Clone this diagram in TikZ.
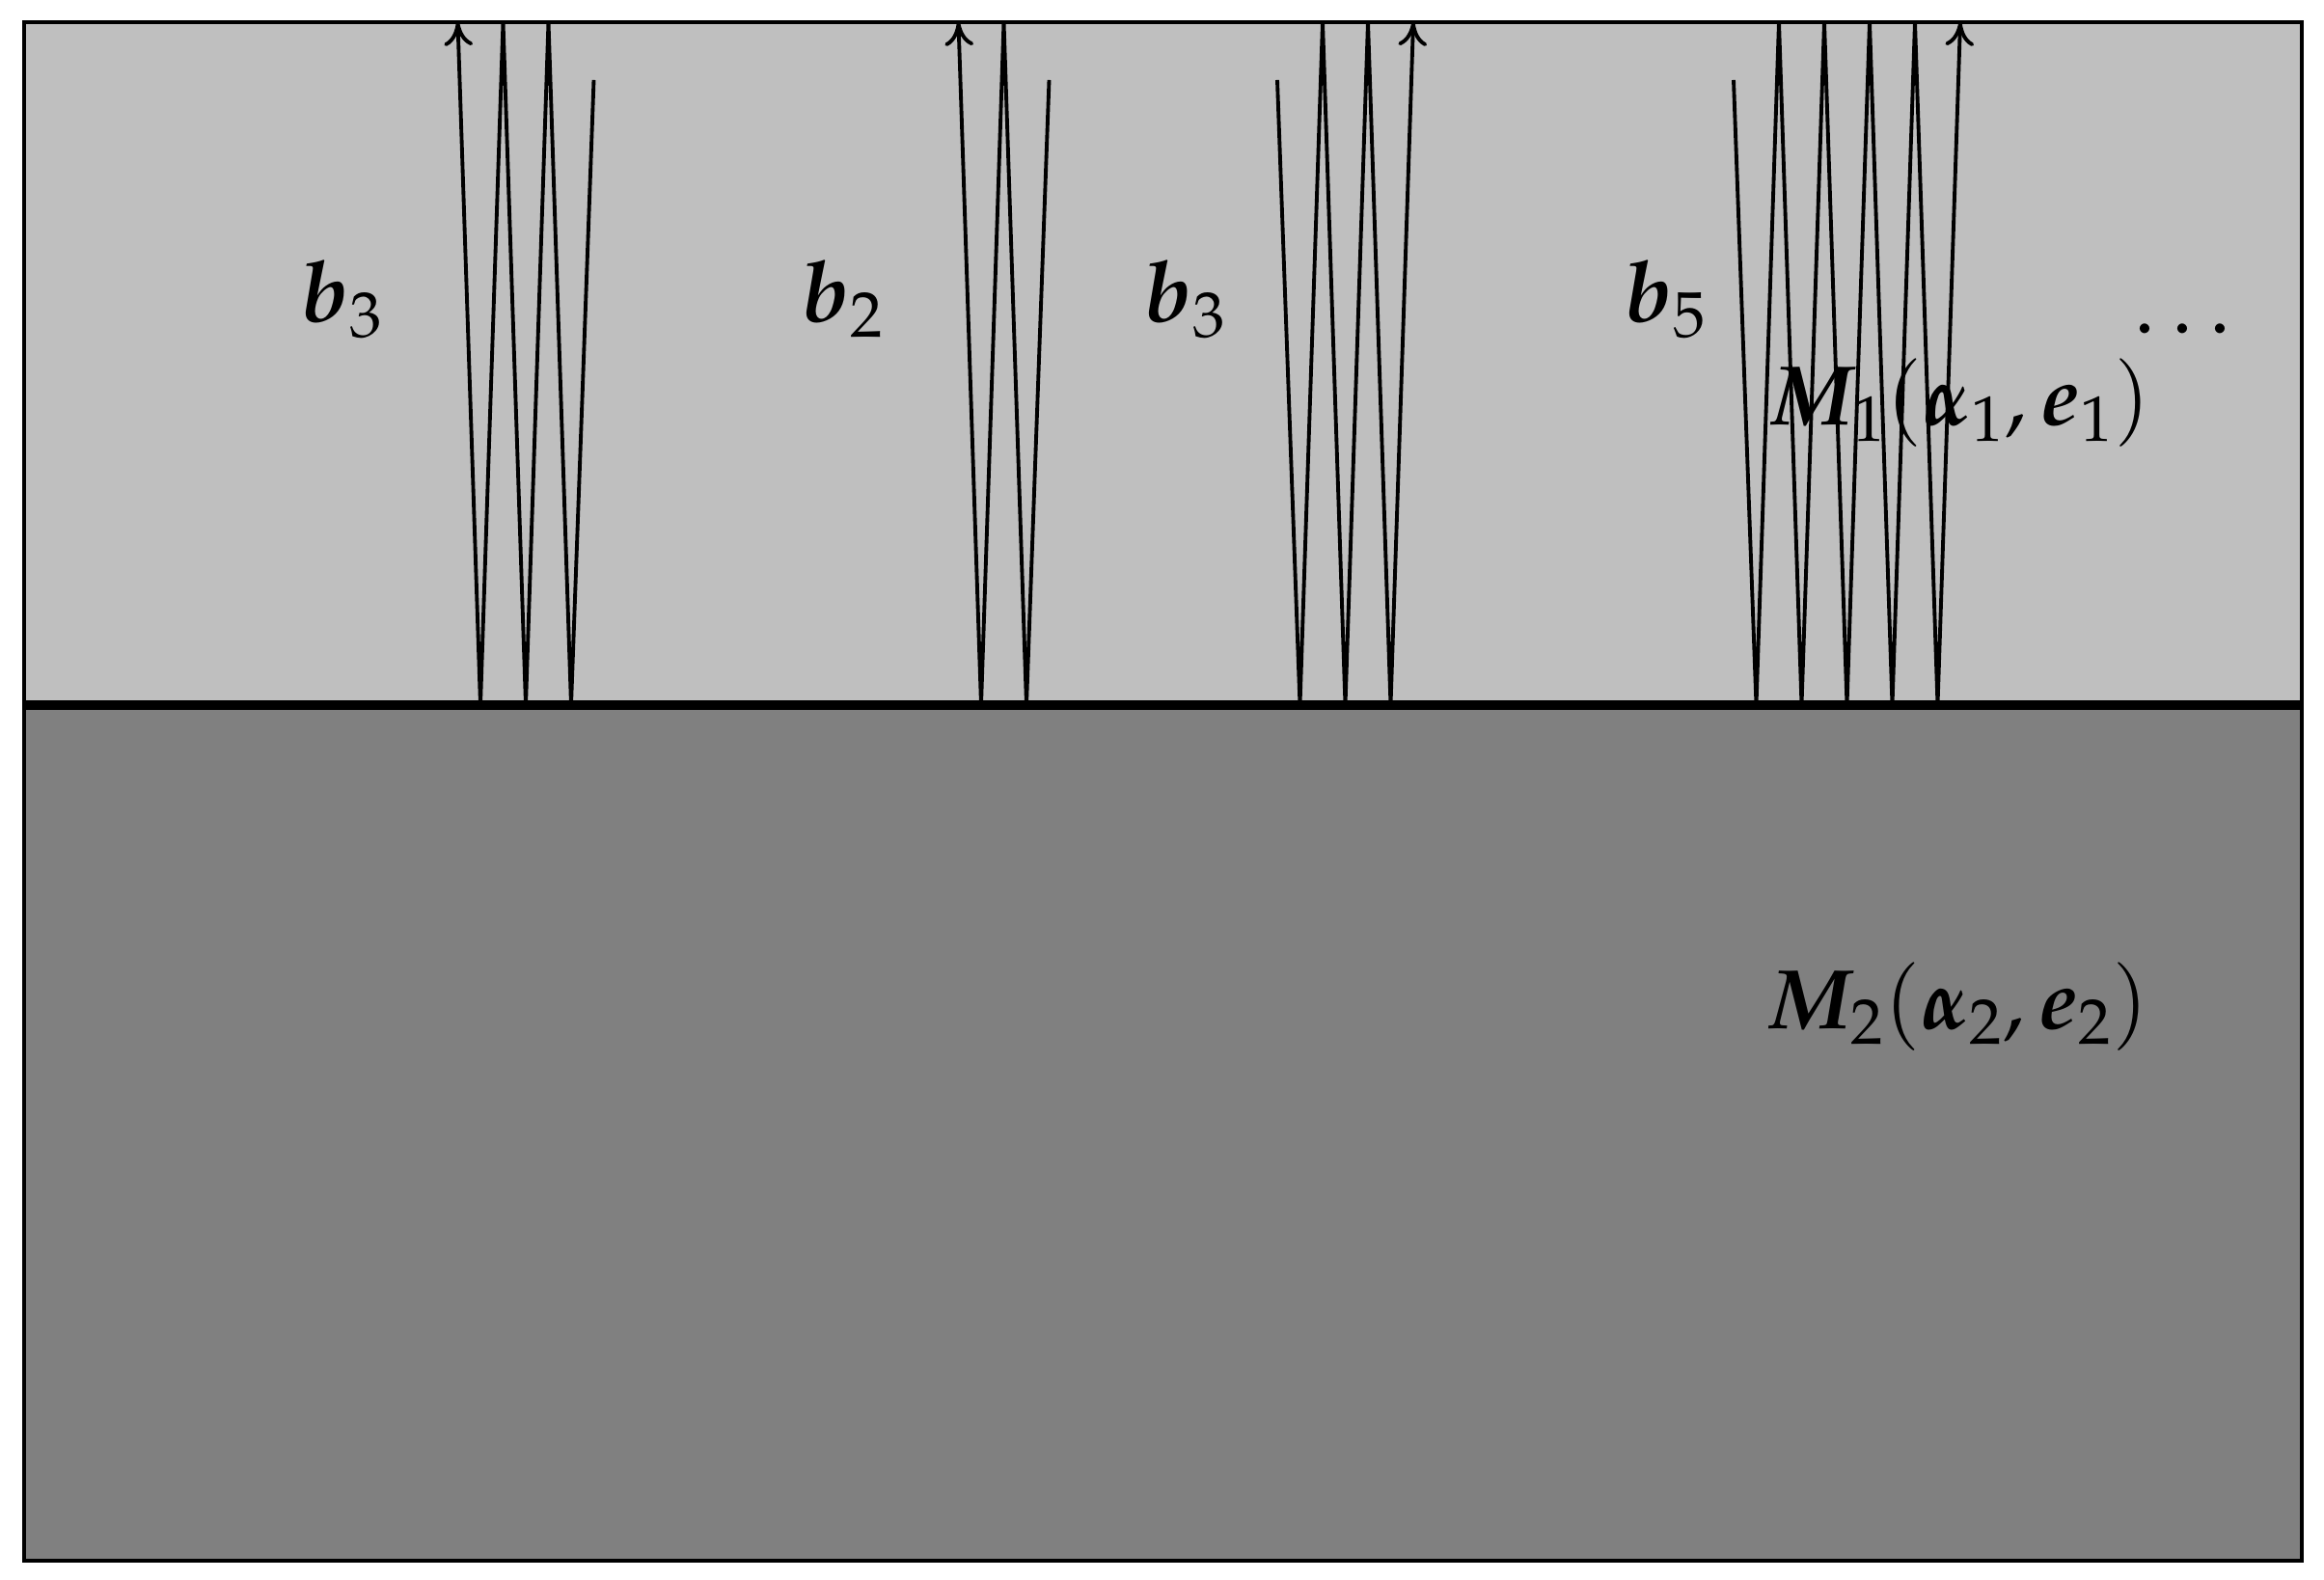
\documentclass[tikz,border=0pt]{standalone}
\usepackage{amsmath}
\usepackage{mathpazo}
\usepackage{bm}
\usetikzlibrary{arrows.meta}

\tikzset{
  ray/.style = {line width=1.1pt, -{To[length=7pt,width=8.5pt]}},
  lbl/.style = {anchor=base, inner sep=0pt, font=\fontsize{25}{30}\selectfont}
}

\begin{document}
\begin{tikzpicture}
\useasboundingbox (0,0) rectangle (24.09,16.38);
% the two media
\fill[lightgray] (0.25,9.07) rectangle (23.86,16.15);
\fill[gray] (0.25,0.20) rectangle (23.86,9.07);
\draw[line width=1.1pt] (0.25,0.20) rectangle (23.86,16.15);
\draw[line width=2.8pt] (0.25,9.07) -- (23.86,9.07);

% labels
\node[lbl] at (3.55,13.04) (b1) {$\bm{b}_3$};
\node[lbl] at (8.74,13.04) (b2) {$\bm{b}_2$};
\node[lbl] at (12.29,13.04) (b3) {$\bm{b}_3$};
\node[lbl] at (17.27,13.04) (b4) {$\bm{b}_5$};
\node[lbl] at (22.70,12.92) (more) {$\dots$};
\node[lbl] at (20.31,11.97) (m1) {$\bm{M}_1(\bm{\alpha}_1, \bm{e}_1)$};
\node[lbl] at (20.29,5.71) (m2) {$\bm{M}_2(\bm{\alpha}_2, \bm{e}_2)$};

% rays bouncing at the interface
\draw[ray] (6.155,15.55) -- (5.92,9.07) -- (5.685,16.15) -- (5.45,9.07)
  -- (5.215,16.15) -- (4.98,9.07) -- (4.745,16.15);
\draw[ray] (10.875,15.55) -- (10.64,9.07) -- (10.405,16.15) -- (10.17,9.07)
  -- (9.935,16.15);
\draw[ray] (13.24,15.55) -- (13.475,9.07) -- (13.71,16.15) -- (13.945,9.07)
  -- (14.18,16.15) -- (14.415,9.07) -- (14.65,16.15);
\draw[ray] (17.97,15.55) -- (18.205,9.07) -- (18.44,16.15) -- (18.675,9.07)
  -- (18.91,16.15) -- (19.145,9.07) -- (19.38,16.15) -- (19.615,9.07)
  -- (19.85,16.15) -- (20.085,9.07) -- (20.32,16.15);
\end{tikzpicture}
\end{document}
